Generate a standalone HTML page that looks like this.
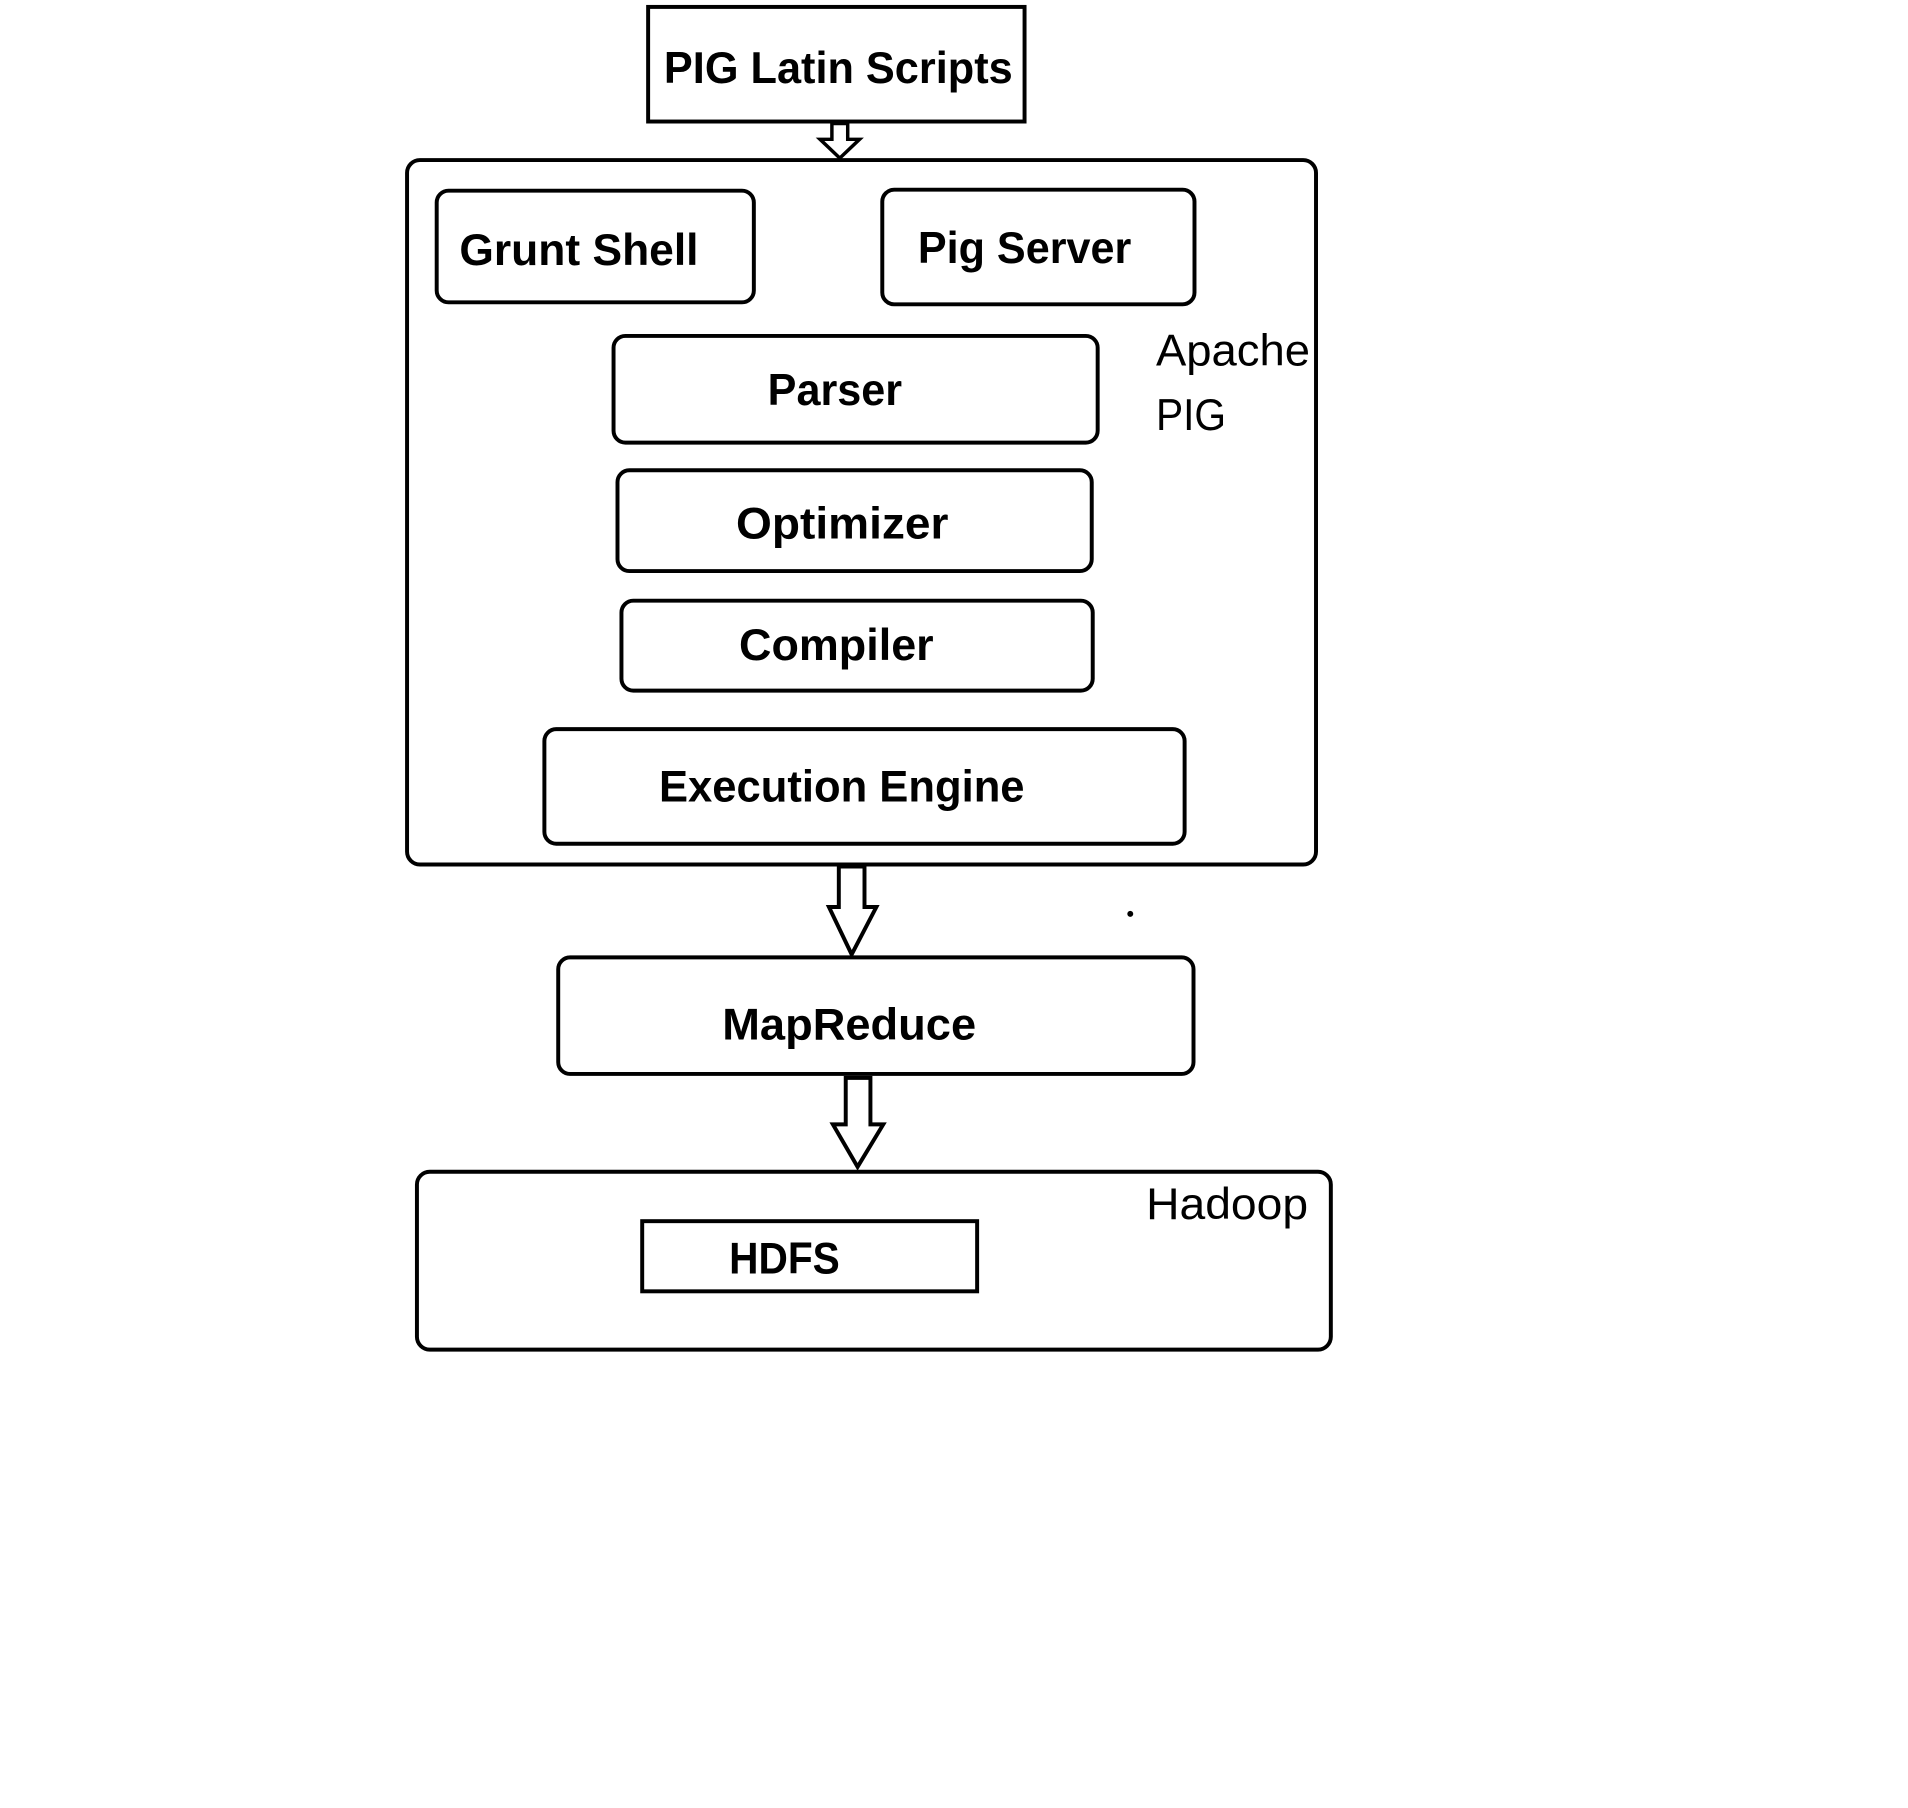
<!DOCTYPE html>
<html><head><style>html,body{margin:0;padding:0;background:#fff;}svg{display:block}</style></head>
<body>
<svg width="1908" height="1808" viewBox="0 0 1908 1808" xmlns="http://www.w3.org/2000/svg">
<g transform="scale(0.988)">
<g fill="none" stroke="#000" stroke-width="4">
<rect x="656" y="7" width="381" height="116"/>
<rect x="412" y="162" width="920" height="713" rx="13"/>
<rect x="442" y="193" width="321" height="113" rx="12"/>
<rect x="893" y="192" width="316" height="116" rx="12"/>
<rect x="621" y="340" width="490" height="108" rx="12"/>
<rect x="625" y="476" width="480" height="102" rx="12"/>
<rect x="629" y="608" width="477" height="91" rx="12"/>
<rect x="551" y="738" width="648" height="116" rx="12"/>
<rect x="565" y="969" width="643" height="118" rx="12"/>
<rect x="422" y="1186" width="925" height="180" rx="13"/>
<rect x="650" y="1236" width="339" height="71"/>
<path d="M842 125 V141 H830 L850 160 L870 141 H858 V125 Z" stroke-width="3.5"/>
<path d="M849 877 V918 H839 L862 966 L887 918 H875 V877 Z"/>
<path d="M856 1091 V1138 H843 L868 1181 L894 1138 H881 V1091 Z"/>
</g>
<circle cx="1144" cy="925" r="3" fill="#000"/>
<g font-family="'Liberation Sans', sans-serif" font-weight="bold" font-size="45" fill="#000">
<text x="672" y="84" textLength="353" lengthAdjust="spacingAndGlyphs">PIG Latin Scripts</text>
<text x="465" y="268" textLength="242" lengthAdjust="spacingAndGlyphs">Grunt Shell</text>
<text x="929" y="266" textLength="216" lengthAdjust="spacingAndGlyphs">Pig Server</text>
<text x="777" y="410" textLength="136" lengthAdjust="spacingAndGlyphs">Parser</text>
<text x="745" y="545" textLength="215" lengthAdjust="spacingAndGlyphs">Optimizer</text>
<text x="748" y="668" textLength="197" lengthAdjust="spacingAndGlyphs">Compiler</text>
<text x="667" y="811" textLength="370" lengthAdjust="spacingAndGlyphs">Execution Engine</text>
<text x="731" y="1052" textLength="257" lengthAdjust="spacingAndGlyphs">MapReduce</text>
<text x="738" y="1289" textLength="112" lengthAdjust="spacingAndGlyphs">HDFS</text>
</g>
<g font-family="'Liberation Sans', sans-serif" font-size="45" fill="#000">
<text x="1170" y="370" textLength="156" lengthAdjust="spacingAndGlyphs">Apache</text>
<text x="1170" y="435" textLength="71" lengthAdjust="spacingAndGlyphs">PIG</text>
<text x="1160" y="1234" textLength="164" lengthAdjust="spacingAndGlyphs">Hadoop</text>
</g>
</g>
</svg>
</body></html>
